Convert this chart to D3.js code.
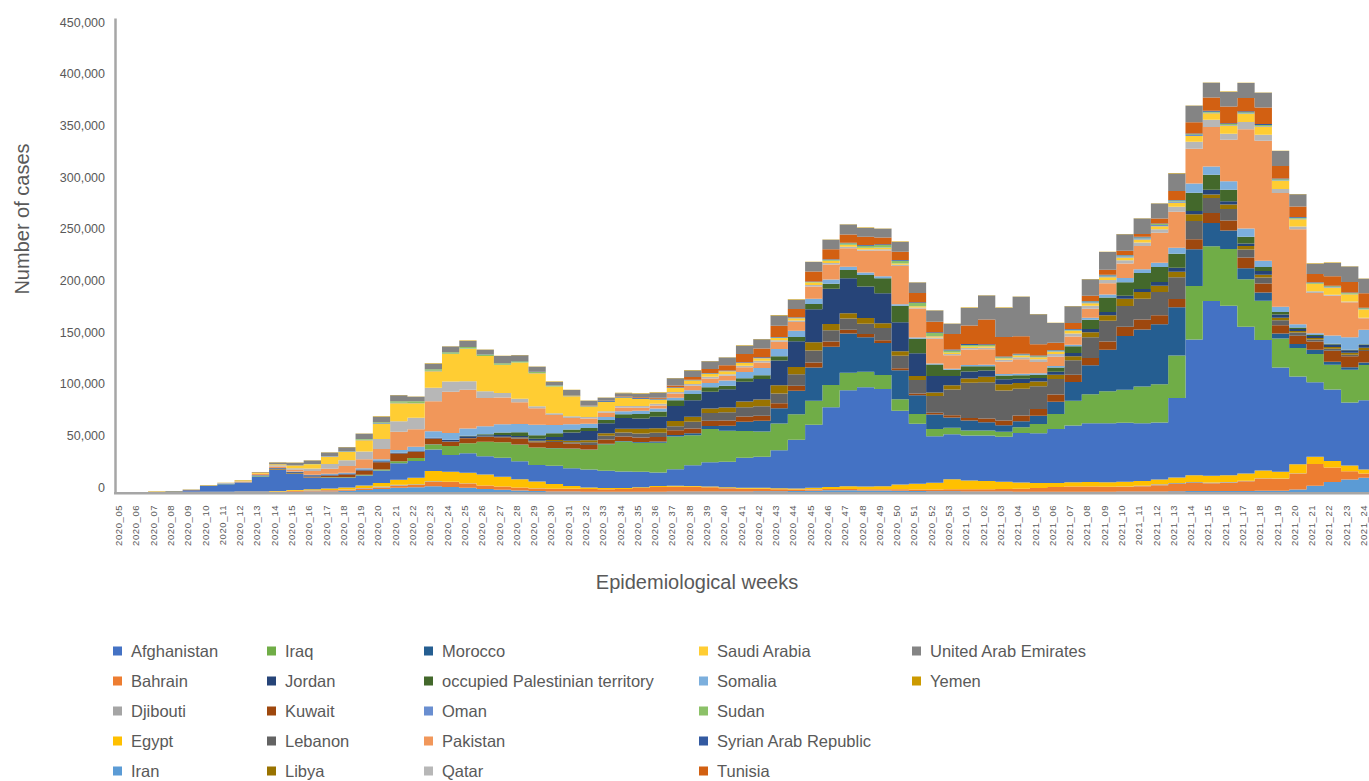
<!DOCTYPE html>
<html><head><meta charset="utf-8">
<script src="https://cdn.jsdelivr.net/npm/d3@7"></script>
<style>
body{margin:0;background:#fff}
svg{display:block}
text{font-family:"Liberation Sans",Arial,sans-serif}
</style>
</head><body>
<svg id="c" width="1369" height="781"></svg>
<script>
const weeks = ["2020_05","2020_06","2020_07","2020_08","2020_09","2020_10","2020_11","2020_12","2020_13","2020_14",
"2020_15","2020_16","2020_17","2020_18","2020_19","2020_20","2020_21","2020_22","2020_23","2020_24",
"2020_25","2020_26","2020_27","2020_28","2020_29","2020_30","2020_31","2020_32","2020_33","2020_34",
"2020_35","2020_36","2020_37","2020_38","2020_39","2020_40","2020_41","2020_42","2020_43","2020_44",
"2020_45","2020_46","2020_47","2020_48","2020_49","2020_50","2020_51","2020_52","2020_53","2021_01",
"2021_02","2021_03","2021_04","2021_05","2021_06","2021_07","2021_08","2021_09","2021_10","2021_11",
"2021_12","2021_13","2021_14","2021_15","2021_16","2021_17","2021_18","2021_19","2021_20","2021_21",
"2021_22","2021_23","2021_24"];

// weekly cases, in thousands
const afghanistan = [0,0,0,0,0,0,0,0,0.1,0.2, 0.3,0.5,0.6,1.2,2,2.8,4,4.5,5.5,4.8, 4.2,3,2.2,1.5,1,0.6,0.4,0.3,0.3,0.3, 0.3,0.3,0.4,0.5,0.5,0.5,0.6,0.8,0.8,1, 1.2,1.6,1.8,1.5,1.5,1.3,1,0.8,0.7,0.6, 0.5,0.4,0.3,0.3,0.3,0.3,0.3,0.3,0.4,0.5, 0.6,0.8,0.9,1,1,0.9,1.1,1.3,2.5,6, 9.7,12,13.9];
const bahrain = [0,0,0,0,0.2,0.05,0.1,0.2,0.2,0.3, 0.6,0.8,1,1,1.5,1.6,2,2.3,4.2,4.8, 3.9,3.2,3,2.8,2.5,2.5,2.6,2.5,2.4,2.6, 3.5,4.5,4.7,4.5,4,3.2,2.4,2.2,1.8,1.4, 1.3,1.2,1.1,1.1,1.2,1.3,1.4,1.6,2,2, 2.2,2.5,2.8,3.5,4.5,5,5,4.6,4.6,5, 6,7,7.7,7.4,8,9.5,12,11.6,15.5,21, 13.9,8,3.9];
const djibouti = [0,0,0,0,0,0,0,0,0,0.05, 0.2,0.4,0.4,0.3,0.4,0.8,0.9,0.6,0.8,0.4, 0.3,0.2,0.1,0.1,0.1,0.1,0.1,0.1,0.05,0.05, 0.05,0.05,0.05,0.05,0.05,0.05,0.05,0.05,0.05,0.05, 0.1,0.1,0.1,0.1,0.05,0.05,0.05,0.05,0.05,0.05, 0.02,0.02,0.02,0.02,0.02,0.05,0.1,0.2,0.4,0.6, 0.8,1,1,0.8,0.6,0.5,0.3,0.2,0.1,0.05, 0.05,0.05,0.05];
const egypt = [0,0,0,0,0,0.3,0.1,0.2,0.3,0.5, 0.8,1,1.3,1.8,2.5,3.5,5,6.5,9.7,9.7, 10.3,10.5,9.5,8,6.5,4.5,2.8,1.5,1,0.9, 0.8,0.9,0.9,0.8,0.8,0.9,1,1,1,1, 1.5,2,2.5,2.7,2.9,4.5,5.5,6.5,9.5,8.5, 8,7,6,5,4,4,4.2,4.4,4.5,4.5, 4.8,5.2,6.5,6.4,6.5,7,7.5,6.4,8.7,7, 6.4,5.5,3.9];
const iran = [0,0,0,0.5,1.5,5.6,7.4,8.5,14.5,20.3, 15.5,11,10.6,9.4,9.5,12,16,16,21,16, 18.7,17.7,18.4,17.4,16,17.7,17,17.4,16.7,16, 15,13,16,20,23.5,24.5,29,30,36.7,47, 61,77,93,96,94,71.5,58,45,43.5,43.5, 44,43.5,48,48,52,55,57,57,57,56, 55,77,131.5,169,164,142,126,101,85,72, 69,61,67];
const iraq = [0,0,0,0,0.05,0,0.1,0.15,0.3,0.4, 0.4,0.3,0.4,0.6,0.8,1,1.8,3,4.8,8.7, 9.7,14,14.8,16,17,17,19,19,25.8,29, 28,29,31.6,29,32,30,26,24.5,25.8,24.8, 23.2,21.6,16.8,14.8,13.5,11,9.5,7,6.4,4.8, 4.8,4.8,5.5,9,14.5,24,28,31,32,35.5, 37,41,51.6,53,55,45.8,38,28,27.4,27.4, 24,31.6,34];
const jordan = [0,0,0,0,0,0,0,0.1,0.15,0.1, 0.05,0.05,0.03,0.03,0.05,0.05,0.1,0.1,0.1,0.1, 0.1,0.05,0.05,0.05,0.05,0.05,0.1,0.2,0.3,0.4, 0.6,1,1.5,2,3,5,9,10.3,14.8,22.6, 32,37,38,33.5,31,28,18,14,10,9.7, 8,6.4,5.8,8,12,18,28,40,52,55, 58,46.7,35.5,22.6,17.7,10.6,8,4.8,4,4, 3,2.5,2.5];
const kuwait = [0,0,0,0,0.1,0.05,0.1,0.1,0.1,0.3, 0.6,0.8,1.5,2.5,4,7,7.4,6,5.5,4.2, 4.8,4.5,4.8,5.8,5,5.8,4.8,4.5,4.3,4.5, 4.5,4.5,4.5,4.5,5,5,5,5,4.8,5, 5,5,3.5,3,2.5,2,1.8,1.8,2,2.5, 3.5,4.5,5.5,6.5,7,7,7,8,9,9.7, 8.7,8,9.7,9.7,9.7,10.6,8.7,8,8,8, 10.6,10.6,11];
const lebanon = [0,0,0,0.2,0.05,0,0.05,0.1,0.2,0.2, 0.1,0.05,0.05,0.05,0.1,0.1,0.1,0.1,0.15,0.15, 0.2,0.3,0.4,0.6,0.8,1,1.2,2.5,3.5,3.8, 3.8,4,4,6.5,7.5,8,9,9,9.5,11, 11.5,11,11,10,12,12,13,16,25,34, 35,29,26,22,15,14,20,20,20,20, 22.6,21,17.7,14.5,11.3,7.7,5.8,4.8,3,2, 2,1.5,1];
const libya = [0,0,0,0,0,0,0,0,0,0, 0,0,0,0,0,0,0.01,0.05,0.1,0.1, 0.1,0.2,0.3,0.5,0.7,1,1.5,2,2.5,3.5, 4.5,4.5,5,5,4.5,4.5,5.5,6.5,8,7, 8,6,5,5.5,4.5,4.5,4,3.5,4,4, 5.5,6,5.5,4.5,4,4,5,5.5,7,6.5, 6,5.2,6.4,3.2,4.2,3.2,2.8,2.5,1.5,1.5, 1.5,1.8,2.2];
const morocco = [0,0,0,0,0,0,0,0.1,0.3,0.6, 0.8,1.3,1,1,0.8,0.8,0.5,0.5,0.5,1.5, 1.5,1.2,1.5,1.5,1.8,3,8,9,9.7,10.6, 10,11,14.5,16,16,17.7,19,20,24,25, 32,34,34,30.6,29,28,22,16,9,7, 6,5,4,3.5,3,3,3,3,3,3, 3.5,3.9,3.2,4.8,3.2,2.6,3.5,3,2,2, 2.5,2.5,3];
const opt = [0,0,0,0,0,0,0,0.05,0.05,0.1, 0.1,0.05,0.02,0.02,0.02,0.02,0.05,0.1,0.1,0.2, 0.5,1,2.5,3.5,3.5,3.5,3,3,3,3.5, 4.5,5,5.5,6,4.5,3.5,3.5,3.5,4,4, 5,5,8,11,14.5,16,14,11,6,5, 4,3.5,3.5,3,4,6.5,9,14,13,15.5, 14.5,13.5,17.7,14.5,11,6.4,4,2.5,1.5,1, 0.7,0.5,0.5];
const oman = [0,0,0,0,0.05,0,0.03,0.05,0.15,0.2, 0.3,0.5,0.7,0.8,1.2,2,2.8,4,6.4,6.4, 7,7.7,8,8,10,8,5,4,3,3, 3,3,2.5,3.5,4,5,6,7,7,6, 5,4,3,2.5,2,1.5,1.2,1,1,1.2, 1.5,1.5,1.5,1.5,1.5,1.5,2,3,4,3.5, 4.3,5.8,9,8,8.4,8,6,5,3,1.5, 8,12,14];
const pakistan = [0,0,0,0,0,0,0.1,0.7,1.2,1.5, 1.8,3.5,5,6.5,8.7,10,17.7,17,29,40, 37.7,27.4,25.8,21,16,9.7,6,5,4,3.5, 3,3,4,4.5,4.5,4.5,4.5,5.5,7,8.5, 12,14.5,18,21,25,37,28,24,13,15, 15,12,14,11,9,8,8.5,11,14,22.6, 29,35,33.5,38,40,96,116,110,92,39, 38.5,34,11];
const qatar = [0,0,0,0,0.05,0.02,0.4,0.2,0.2,1, 1.5,2.5,4.5,5.5,7.5,9.7,10,11,13,9.7, 8,6.5,4.5,3.5,2,1.8,1.7,1.6,1.5,1.5, 1.5,1.5,1.5,1.5,1.5,1.5,1.5,1.5,1.5,1.5, 1.5,1.5,1.4,1.3,1.2,1.1,1,1.1,1.2,1.3, 1.5,1.7,2,2.5,2.7,3,3,3,3.2,3.5, 3.3,4.8,6.8,7,5.8,7,5.8,3.9,2.5,1.7, 1,0.8,0.6];
const saudiArabia = [0,0,0,0,0,0,0.1,0.4,0.7,1, 2.5,4,7,8,11,14.5,17.5,14,16,26.7, 31.6,34,27,35,32,25.8,19.5,10,9,8, 7,4,4,3.5,3,3,2.8,2.6,2.3,2.3, 2.2,2,1.7,1.5,1.4,1.2,1.2,1.3,1.5,1.5, 1.5,1.6,1.7,2,2.2,2.3,2.5,2.6,2.6,2.8, 3,3.9,5.5,6.4,8,8,8,8,7,7, 7,7,8];
const somalia = [0,0,0,0,0,0,0,0,0,0, 0.05,0.2,0.4,0.5,0.5,0.5,0.5,0.4,0.3,0.3, 0.2,0.1,0.1,0.1,0.1,0.05,0.05,0.05,0.05,0.05, 0.05,0.05,0.05,0.05,0.05,0.05,0.05,0.05,0.05,0.05, 0.05,0.05,0.1,0.1,0.1,0.1,0.1,0.1,0.1,0.1, 0.1,0.1,0.1,0.2,0.3,0.5,0.8,1,1.2,1.2, 1.2,1.2,1,0.5,0.5,0.5,0.5,0.5,0.5,0.3, 0.3,0.3,0.3];
const sudan = [0,0,0,0,0,0,0,0,0,0, 0.02,0.05,0.1,0.3,0.8,1,1.5,1.5,1.5,1.5, 1.5,1.5,1.5,1.2,1,0.8,0.5,0.3,0.2,0.2, 0.2,0.2,0.2,0.2,0.2,0.2,0.2,0.2,0.2,0.3, 0.5,1,1.5,2,2.5,2.5,3,3,2,1.5, 1,0.8,0.8,0.8,0.8,0.8,0.8,0.8,0.8,0.8, 0.8,0.8,0.8,1,1,1,1,1,1,0.8, 0.8,0.8,0.8];
const syria = [0,0,0,0,0,0,0,0,0,0, 0,0,0,0,0,0,0,0,0,0, 0,0.05,0.1,0.15,0.2,0.3,0.4,0.5,0.6,0.7, 0.6,0.6,0.5,0.5,0.4,0.4,0.4,0.5,0.5,0.5, 0.6,0.6,0.6,0.7,0.8,0.8,0.8,0.8,0.8,0.8, 0.8,0.7,0.7,0.6,0.6,0.6,0.6,0.6,0.6,0.6, 0.6,0.6,0.6,0.8,0.8,0.8,0.8,0.8,0.8,0.6, 0.6,0.6,0.6];
const tunisia = [0,0,0,0,0,0,0.02,0.05,0.2,0.2, 0.1,0.05,0.02,0,0,0,0,0,0,0, 0,0,0,0.05,0.1,0.1,0.1,0.2,0.3,0.5, 0.7,1,1.5,2.5,4,5,8,8.5,11,8, 9.7,9.7,8,8,6.4,8,9,10,15,18, 24,19,17,11,7,6,5,5,4,2.6, 4.8,8.7,11,13,16,13,16,12,10,8, 9,10,14];
const uae = [0.05,0.05,0.1,0.1,0.1,0.1,0.1,0.1,0.4,1.5, 2.5,3.3,3.5,3.7,5,5.5,5.7,4.5,5.5,5.5, 5.8,4.5,7,5.5,4.8,3.2,4.8,4.5,3,3, 3.5,5,7,6.5,7.5,7.5,8,9,10,9, 9,9,9.5,8.5,8.5,9.5,10,11,10,17, 23,28,38,29,19,16,16,17,16,15, 14.5,17,16,14.2,14.2,14.5,14.2,14.5,12,10, 13,15,14];
const yemen = [0,0,0.5,0.1,0.3,0.4,0.4,0.4,0.4,0.3, 0.3,0.3,0.3,0.3,0.3,0.3,0.3,0.3,0.3,0.3, 0.3,0.3,0.3,0.3,0.3,0.3,0.3,0.3,0.3,0.3, 0.3,0.3,0.3,0.3,0.3,0.3,0.3,0.3,0.3,0.3, 0.3,0.3,0.3,0.3,0.3,0.3,0.3,0.3,0.3,0.3, 0.3,0.3,0.3,0.3,0.3,0.3,0.3,0.3,0.3,0.3, 0.3,0.3,0.3,0.3,0.3,0.3,0.3,0.3,0.3,0.3, 0.3,0.3,0.3];

const countryNames = ["Afghanistan","Bahrain","Djibouti","Egypt","Iran","Iraq","Jordan","Kuwait","Lebanon","Libya","Morocco","occupied Palestinian territory","Oman","Pakistan","Qatar","Saudi Arabia","Somalia","Sudan","Syrian Arab Republic","Tunisia","United Arab Emirates","Yemen"];
const countryValues = [afghanistan,bahrain,djibouti,egypt,iran,iraq,jordan,kuwait,lebanon,libya,morocco,opt,oman,pakistan,qatar,saudiArabia,somalia,sudan,syria,tunisia,uae,yemen];
const yTicks = [0,50000,100000,150000,200000,250000,300000,350000,400000,450000];

// styles
const legendColors = ["#4472C4","#ED7D31","#A5A5A5","#FFC000","#5B9BD5","#70AD47","#264478","#9E480E","#636363","#997300","#255E91","#43682B","#698ED0","#F1975A","#B7B7B7","#FFCD33","#7CAFDD","#8CC168","#335AA1","#D26012","#848484","#CC9A00"];
const areaColors   = ["#5B9BD5","#ED7D31","#A5A5A5","#FFC000","#4472C4","#70AD47","#255E91","#9E480E","#636363","#997300","#264478","#43682B","#7CAFDD","#F1975A","#B7B7B7","#FFCD33","#698ED0","#8CC168","#335AA1","#D26012","#848484","#CC9A00"];

const svg = d3.select("#c");
svg.append("rect").attr("width",1369).attr("height",781).attr("fill","#fff");

const step = 17.29, x0 = 113.5;
const x = d3.scaleBand().domain(weeks).range([x0, x0 + step*weeks.length]).padding(0);
const y = d3.scaleLinear().domain([0, 458400]).range([492, 18]);

const rows = weeks.map((w,i) => {
  const r = {week:w};
  countryNames.forEach((c,j) => { r[c] = (countryValues[j][i] || 0) * 1000; });
  return r;
});
const series = d3.stack().keys(countryNames)(rows);
const area = d3.area().curve(d3.curveStepAfter)
  .x(d => d.x).y0(d => y(d.lo)).y1(d => y(d.hi));

const gA = svg.append("g");
series.forEach((layer, j) => {
  const pts = layer.map((d,i) => ({x: x(weeks[i]), lo: d[0], hi: d[1]}));
  const last = pts[pts.length-1];
  pts.push({x: last.x + x.bandwidth(), lo: last.lo, hi: last.hi});
  gA.append("path").attr("d", area(pts)).attr("fill", areaColors[j]);
});

// Y axis
const gy = svg.append("g").attr("transform","translate(115,0)")
  .call(d3.axisLeft(y).tickValues(yTicks).tickFormat(d3.format(",")).tickSize(0).tickSizeOuter(0).tickPadding(10));
gy.select(".domain").attr("stroke","#a6a6a6").attr("stroke-width",2.5);
gy.selectAll("text").attr("font-size","12.5px").attr("fill","#595959")
  .attr("font-family","'Liberation Sans',Arial,sans-serif").attr("y",-5).attr("dy","0.35em");

// X axis
const gx = svg.append("g").attr("transform","translate(0,492.8)")
  .call(d3.axisBottom(x).tickSize(0).tickSizeOuter(0));
gx.select(".domain").attr("stroke","#a6a6a6").attr("stroke-width",2.5);
gx.selectAll("text").attr("transform","rotate(-90)").attr("text-anchor","end")
  .attr("x",-12).attr("y",0).attr("dy","0")
  .attr("font-size","9.5px").attr("letter-spacing","0.6px").attr("fill","#595959")
  .attr("font-family","'Liberation Sans',Arial,sans-serif");

// Titles
svg.append("text").attr("transform","translate(29,219) rotate(-90)").attr("text-anchor","middle")
  .attr("font-size","20px").attr("fill","#595959").text("Number of cases");
svg.append("text").attr("x",697).attr("y",589).attr("text-anchor","middle")
  .attr("font-size","20px").attr("fill","#595959").text("Epidemiological weeks");

// Legend (column-major, 5 rows)
const colX = [113, 267, 424, 699, 912];
const rowY = [651, 681, 711, 741, 771];
const gl = svg.append("g");
countryNames.forEach((name, i) => {
  const cx = colX[Math.floor(i/5)], cy = rowY[i%5];
  gl.append("rect").attr("x",cx).attr("y",cy-4.5).attr("width",9).attr("height",9).attr("fill",legendColors[i]);
  gl.append("text").attr("x",cx+18).attr("y",cy).attr("dy","0.35em")
    .attr("font-size","16.5px").attr("fill","#595959").text(name);
});

// sanity check on data lengths
countryValues.forEach((a,j) => { if (a.length !== weeks.length) svg.append("text").attr("x",600).attr("y",40+j*14).attr("fill","red").text(countryNames[j]+" "+a.length); });
</script>
</body></html>
